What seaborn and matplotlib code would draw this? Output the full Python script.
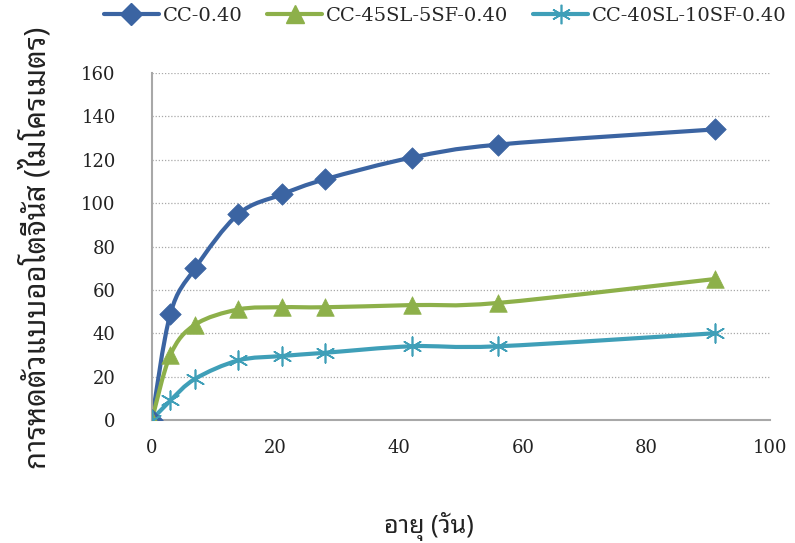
import matplotlib
matplotlib.use("Agg")
import matplotlib.pyplot as plt
import seaborn as sns
import numpy as np
import pandas as pd
from matplotlib.path import Path
from matplotlib.patches import PathPatch
from matplotlib.lines import Line2D

ages = [0, 3, 7, 14, 21, 28, 42, 56, 91]
cc040 = [0, 49, 70, 95, 104, 111, 121, 127, 134]
cc45sl = [0, 30, 44, 51, 52, 52, 53, 54, 65]
cc40sl = [0, 9, 19, 27.5, 29.5, 31, 34, 34, 40]
series_names = ["CC-0.40", "CC-45SL-5SF-0.40", "CC-40SL-10SF-0.40"]
xticks = [0, 20, 40, 60, 80, 100]
yticks = [0, 20, 40, 60, 80, 100, 120, 140, 160]
xlabel = "อายุ (วัน)"
ylabel = "การหดตัวแบบออโตจีนัส (ไมโครเมตร)"

colors = ["#3B64A2", "#8DB04A", "#3F9FB8"]
markers = ["D", "^", "x"]

sns.set_theme(style="white")
plt.rcParams['font.family'] = ['DejaVu Serif', 'Noto Sans Thai Looped', 'DejaVu Sans']
thai = ['Noto Sans Thai Looped', 'DejaVu Sans']

fig = plt.figure(figsize=(7.95, 5.43), dpi=100)
ax = fig.add_axes([0.191, 0.2265, 0.778, 0.639])

df = pd.DataFrame({
    "age": ages * 3,
    "value": cc040 + cc45sl + cc40sl,
    "series": sum([[n] * len(ages) for n in series_names], []),
})

def smooth_path(xs, ys, t=1/6):
    xs = np.asarray(xs, float); ys = np.asarray(ys, float)
    n = len(xs)
    verts = [(xs[0], ys[0])]
    codes = [Path.MOVETO]
    for i in range(n - 1):
        p0 = np.array([xs[max(i - 1, 0)], ys[max(i - 1, 0)]])
        p1 = np.array([xs[i], ys[i]])
        p2 = np.array([xs[i + 1], ys[i + 1]])
        p3 = np.array([xs[min(i + 2, n - 1)], ys[min(i + 2, n - 1)]])
        c1 = p1 + (p2 - p0) * t
        c2 = p2 - (p3 - p1) * t
        verts += [tuple(c1), tuple(c2), tuple(p2)]
        codes += [Path.CURVE4] * 3
    return Path(verts, codes)

vals = [cc040, cc45sl, cc40sl]
for name, col, mk, v in zip(series_names, colors, markers, vals):
    patch = PathPatch(smooth_path(ages, v), facecolor="none", edgecolor=col,
                      lw=3.0, zorder=2, capstyle="round", joinstyle="round")
    ax.add_patch(patch)
    sub = df[df.series == name]
    if mk == "x":
        sns.scatterplot(data=sub, x="age", y="value", ax=ax, marker=(6, 2, 0), s=180,
                        color=col, linewidth=1.2, edgecolor=col, zorder=3, legend=False)
    else:
        sns.scatterplot(data=sub, x="age", y="value", ax=ax, marker=mk,
                        s=120 if mk == "D" else 160, color=col, edgecolor=col,
                        linewidth=0.5, zorder=3, legend=False)

handles = []
for name, col, mk in zip(series_names, colors, markers):
    if mk == "x":
        h = Line2D([], [], color=col, lw=3.0, marker=(6, 2, 0), markersize=14,
                   markeredgewidth=1.2, markeredgecolor=col)
    else:
        h = Line2D([], [], color=col, lw=3.0, marker=mk, markersize=11 if mk == "D" else 13,
                   markerfacecolor=col, markeredgecolor=col)
    handles.append(h)
fig.legend(handles, series_names, loc="upper center", bbox_to_anchor=(0.56, 1.02),
           ncol=3, frameon=False, fontsize=14, handlelength=2.8, columnspacing=1.3,
           handletextpad=0.2)

ax.set_xlim(0, 100)
ax.set_ylim(0, 160)
ax.set_xticks(xticks)
ax.set_yticks(yticks)
ax.tick_params(axis="both", length=0, labelsize=13, colors="#222222")
ax.tick_params(axis="x", pad=14)
ax.tick_params(axis="y", pad=26)
ax.yaxis.grid(True, linestyle=(0, (1, 1.5)), color="#a8a8a8", lw=0.9)
ax.xaxis.grid(False)
for s in ["top", "right"]:
    ax.spines[s].set_visible(False)
for s in ["left", "bottom"]:
    ax.spines[s].set_color("#a8a8a8")
    ax.spines[s].set_linewidth(1.5)
ax.set_xlabel(xlabel, fontsize=18, family=thai, fontweight="light", color="#222222")
ax.xaxis.set_label_coords(0.448, -0.265)
ax.set_ylabel(ylabel, fontsize=21, family=thai, fontweight="light", color="#222222")
ax.yaxis.set_label_coords(-0.16, 0.495)

fig.savefig("out.png", dpi=100, facecolor="white")
